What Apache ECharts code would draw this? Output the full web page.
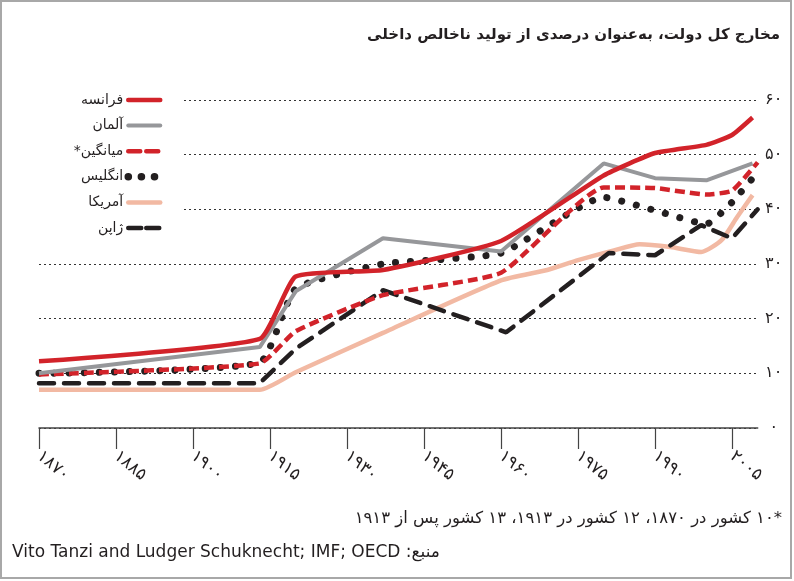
<!DOCTYPE html>
<html>
<head>
<meta charset="utf-8">
<script src="https://cdn.jsdelivr.net/npm/echarts@6/dist/echarts.min.js"></script>
<style>
html, body { margin: 0; padding: 0; background: #fff; }
#main { width: 794px; height: 581px; }
</style>
</head>
<body>
<div id="main"></div>
<script>
// values (percent of GDP)
const seriesNames = ['فرانسه', 'آلمان', '*میانگین', 'انگلیس', 'آمریکا', 'ژاپن'];

const franceYears = [1870, 1913, 1920, 1937, 1960, 1980, 1990, 2000, 2005, 2009];
const franceValues = [12.2, 16.3, 27.7, 28.9, 34.2, 46.2, 50.3, 51.8, 53.6, 56.8];

const germanyYears = [1870, 1913, 1920, 1937, 1960, 1980, 1990, 2000, 2009];
const germanyValues = [10.0, 14.8, 25.0, 34.7, 32.3, 48.4, 45.7, 45.3, 48.4];

const meanYears = [1870, 1913, 1920, 1937, 1960, 1980, 1990, 2000, 2005, 2010];
const meanValues = [9.8, 11.8, 17.7, 24.3, 28.4, 44.0, 43.9, 42.7, 43.4, 48.6];

const britainYears = [1870, 1913, 1920, 1937, 1960, 1980, 1990, 2000, 2005, 2010];
const britainValues = [10.0, 12.0, 25.5, 30.0, 32.0, 42.2, 39.8, 37.3, 41.3, 46.8];

const usaYears = [1870, 1913, 1920, 1937, 1960, 1969, 1975, 1982, 1987, 1993, 1999, 2003, 2006, 2009];
const usaValues = [7.0, 7.0, 10.2, 17.4, 27.0, 28.9, 30.7, 32.5, 33.6, 33.1, 32.2, 34.4, 38.6, 42.6];

const japanYears = [1870, 1913, 1920, 1937, 1961, 1981, 1990, 1999, 2005, 2010];
const japanValues = [8.2, 8.2, 14.5, 25.2, 17.5, 32.0, 31.6, 37.1, 34.7, 40.0];

// tick labels
const xTickYears = [1870, 1885, 1900, 1915, 1930, 1945, 1960, 1975, 1990, 2005];
const xTickLabels = ['۱۸۷۰', '۱۸۸۵', '۱۹۰۰', '۱۹۱۵', '۱۹۳۰', '۱۹۴۵', '۱۹۶۰', '۱۹۷۵', '۱۹۹۰', '۲۰۰۵'];
const yTickValues = [0, 10, 20, 30, 40, 50, 60];
const yTickLabels = ['۰', '۱۰', '۲۰', '۳۰', '۴۰', '۵۰', '۶۰'];

const titleText = 'مخارج کل دولت، به‌عنوان درصدی از تولید ناخالص داخلی';
const noteText = '\u202B*۱۰ کشور در ۱۸۷۰، ۱۲ کشور در ۱۹۱۳، ۱۳ کشور پس از ۱۹۱۳\u202C';
const sourceText = '\u202Bمنبع: Vito Tanzi and Ludger Schuknecht; IMF; OECD\u202C';

const FONT = 'DejaVu Sans';
const RED = '#d2232a';
const GREY = '#96979a';
const SALMON = '#f2b9a3';
const BLACK = '#231f20';

// line looks, shared by the series and their legend icons
const lineLooks = [
    { color: RED, width: 4.5 },
    { color: GREY, width: 4 },
    { color: RED, width: 4.5, type: [10, 5] },
    { color: BLACK, width: 7, type: [0.1, 15], cap: 'round' },
    { color: SALMON, width: 4.5 },
    { color: BLACK, width: 4.5, type: [15, 10], cap: 'round' }
];
const legendLooks = [
    { color: RED, width: 4.5, cap: 'round' },
    { color: GREY, width: 4, cap: 'round' },
    { color: RED, width: 4.5, type: [12, 6], cap: 'round' },
    { color: BLACK, width: 7.5, type: [0.1, 13], cap: 'round' },
    { color: SALMON, width: 4.5, cap: 'round' },
    { color: BLACK, width: 4.5, type: [13, 5], cap: 'round' }
];

function pairs(xs, ys) {
    return xs.map((x, i) => [x, ys[i]]);
}

let chart = echarts.init(document.getElementById('main'));

chart.setOption({
    animation: false,
    backgroundColor: '#fff',
    title: {
        text: titleText,
        right: 9,
        top: 23,
        textStyle: { fontFamily: FONT, fontWeight: 'bold', fontSize: 15, color: BLACK }
    },
    legend: {
        orient: 'vertical',
        right: 610,
        top: 86,
        align: 'right',
        itemWidth: 32,
        itemHeight: 10,
        itemGap: 9.6,
        padding: [6, 20, 8, 48],
        backgroundColor: '#fff',
        itemStyle: { color: 'rgba(0,0,0,0)', borderColor: 'rgba(0,0,0,0)', borderWidth: 0 },
        textStyle: { fontFamily: FONT, fontSize: 14, color: BLACK, lineHeight: 16 },
        data: seriesNames.map((n, i) => ({ name: n, lineStyle: legendLooks[i] }))
    },
    grid: { left: 39, right: 36.3, top: 100, bottom: 153 },
    xAxis: {
        type: 'value',
        min: 1870,
        max: 2010,
        axisLine: { lineStyle: { color: '#444', width: 1.5 } },
        axisTick: { customValues: xTickYears, length: 21, lineStyle: { color: '#444', width: 1.2 } },
        axisLabel: {
            customValues: xTickYears,
            rotate: -40,
            margin: 26,
            fontFamily: FONT,
            fontSize: 17,
            color: BLACK,
            formatter: v => xTickLabels[xTickYears.indexOf(v)] || ''
        },
        splitLine: { show: false }
    },
    yAxis: {
        type: 'value',
        position: 'right',
        min: 0,
        max: 60,
        interval: 10,
        axisLine: { show: false },
        axisTick: { show: false },
        axisLabel: {
            margin: 16,
            align: 'center',
            fontFamily: FONT,
            fontSize: 16,
            color: BLACK,
            formatter: v => yTickLabels[yTickValues.indexOf(v)]
        },
        splitLine: { lineStyle: { type: [2, 3], color: '#333', width: 1 } }
    },
    series: [
        {
            name: seriesNames[0], type: 'line', symbol: 'none', smooth: 0.15,
            data: pairs(franceYears, franceValues),
            color: RED, lineStyle: lineLooks[0], z: 6
        },
        {
            name: seriesNames[1], type: 'line', symbol: 'none',
            data: pairs(germanyYears, germanyValues),
            color: GREY, lineStyle: lineLooks[1], z: 5
        },
        {
            name: seriesNames[2], type: 'line', symbol: 'none', smooth: 0.15,
            data: pairs(meanYears, meanValues),
            color: RED, lineStyle: lineLooks[2], z: 4
        },
        {
            name: seriesNames[3], type: 'line', symbol: 'none', smooth: 0.15,
            data: pairs(britainYears, britainValues),
            color: BLACK, lineStyle: lineLooks[3], z: 3
        },
        {
            name: seriesNames[4], type: 'line', symbol: 'none', smooth: 0.2,
            data: pairs(usaYears, usaValues),
            color: SALMON, lineStyle: lineLooks[4], z: 2
        },
        {
            name: seriesNames[5], type: 'line', symbol: 'none',
            data: pairs(japanYears, japanValues),
            color: BLACK, lineStyle: lineLooks[5], z: 3
        }
    ],
    graphic: [
        {
            type: 'rect', silent: true, z: 100,
            shape: { x: 1, y: 1, width: 790, height: 577 },
            style: { fill: 'none', stroke: '#a8a8a8', lineWidth: 2 }
        },
        {
            type: 'text', x: 782, y: 519,
            style: { text: noteText, font: '16.5px "DejaVu Sans"', fill: BLACK, align: 'right', verticalAlign: 'middle' }
        },
        {
            type: 'text', x: 12, y: 553,
            style: { text: sourceText, font: '17px "DejaVu Sans"', fill: BLACK, align: 'left', verticalAlign: 'middle' }
        }
    ]
});
</script>
</body>
</html>
